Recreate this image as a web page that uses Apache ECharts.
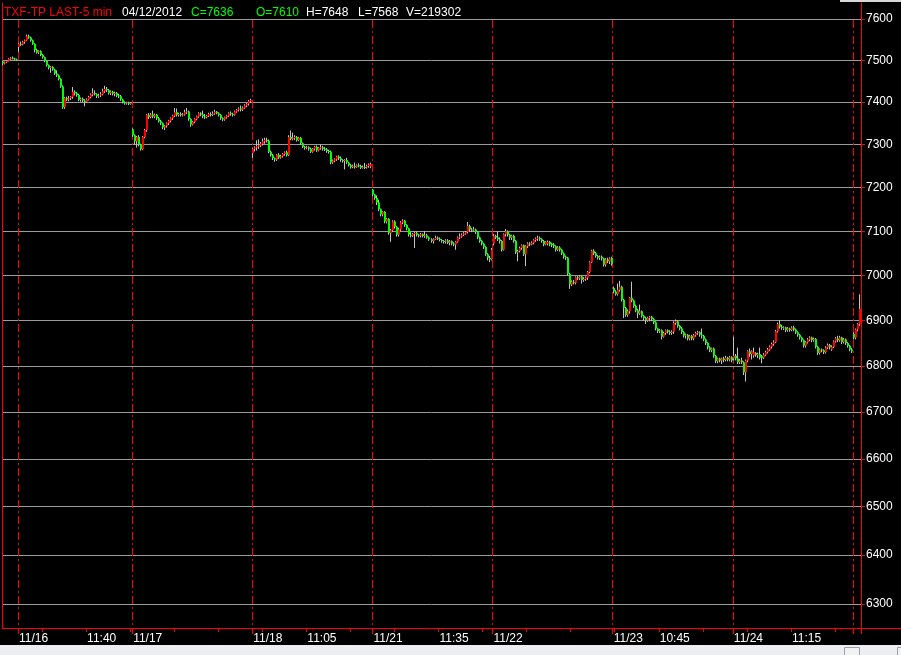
<!DOCTYPE html>
<html><head><meta charset="utf-8">
<script src="https://cdn.jsdelivr.net/npm/echarts@6/dist/echarts.min.js"></script>
<style>html,body{margin:0;padding:0;background:#000;}#c{width:901px;height:655px;}</style>
</head><body><div id="c"></div>
<script>
// ---- data (5-min bars: [open, close, low, high]) ----
const dayNames = ['11/15','11/16','11/17','11/18','11/21','11/22','11/23','11/24','11/25'];
const firstSlot = [52,0,0,0,0,0,0,0,0];

const d1115 = [[7497,7492,7488,7499],[7492,7495,7490,7497],[7495,7499,7493,7501],[7499,7503,7497,7505],[7503,7506,7501,7508],[7506,7504,7502,7509],[7504,7502,7500,7506],[7502,7500,7498,7504]];
const d1116 = [[7532,7540,7520,7542],[7540,7538,7535,7545],[7538,7544,7536,7547],[7544,7548,7540,7550],[7548,7558,7546,7562],[7558,7555,7552,7562],[7555,7548,7545,7557],[7548,7540,7537,7550],[7540,7525,7519,7541],[7525,7519,7516,7528],
[7519,7522,7515,7524],[7522,7513,7510,7524],[7513,7507,7504,7515],[7507,7498,7495,7509],[7498,7488,7485,7500],[7488,7482,7478,7490],[7482,7484,7470,7486],[7484,7478,7475,7486],[7478,7468,7465,7480],[7468,7464,7460,7476],
[7464,7455,7452,7466],[7455,7437,7434,7457],[7437,7388,7384,7440],[7388,7410,7384,7412],[7410,7406,7403,7413],[7406,7409,7402,7415],[7409,7412,7405,7414],[7412,7425,7408,7436],[7425,7421,7416,7428],[7421,7417,7413,7424],
[7417,7405,7402,7420],[7405,7408,7401,7411],[7408,7404,7400,7411],[7404,7401,7390,7407],[7401,7406,7398,7409],[7406,7412,7404,7415],[7412,7418,7409,7421],[7418,7422,7414,7433],[7422,7419,7416,7428],[7419,7414,7410,7421],
[7414,7416,7410,7420],[7416,7419,7412,7424],[7419,7426,7416,7432],[7426,7431,7422,7439],[7431,7428,7424,7436],[7428,7421,7418,7431],[7421,7425,7417,7428],[7425,7420,7416,7427],[7420,7422,7414,7425],[7422,7416,7412,7424],
[7416,7414,7410,7420],[7414,7406,7403,7417],[7406,7400,7397,7408],[7400,7397,7394,7402],[7397,7399,7394,7401],[7399,7396,7393,7401],[7396,7398,7394,7400]];
const d1117 = [[7336,7322,7318,7338],[7322,7308,7300,7324],[7308,7318,7293,7320],[7318,7300,7296,7322],[7300,7289,7286,7302],[7289,7318,7287,7320],[7318,7334,7315,7337],[7334,7370,7330,7372],[7370,7365,7360,7374],[7365,7371,7362,7374],
[7371,7366,7362,7380],[7366,7370,7362,7373],[7370,7362,7358,7372],[7362,7355,7352,7365],[7355,7350,7346,7358],[7350,7340,7336,7352],[7340,7344,7334,7346],[7344,7350,7340,7352],[7350,7356,7346,7358],[7356,7362,7352,7364],
[7362,7368,7358,7370],[7368,7376,7365,7386],[7376,7370,7366,7385],[7370,7372,7366,7375],[7372,7370,7366,7376],[7370,7371,7366,7374],[7371,7376,7368,7382],[7376,7378,7372,7386],[7378,7360,7356,7380],[7360,7347,7342,7362],
[7347,7353,7345,7355],[7353,7360,7350,7362],[7360,7366,7357,7368],[7366,7374,7363,7376],[7374,7371,7367,7376],[7371,7366,7362,7380],[7366,7364,7360,7372],[7364,7368,7362,7370],[7368,7372,7365,7375],[7372,7370,7366,7376],
[7370,7373,7367,7378],[7373,7377,7370,7382],[7377,7374,7371,7379],[7374,7370,7366,7376],[7370,7362,7358,7372],[7362,7359,7355,7364],[7359,7364,7356,7366],[7364,7368,7361,7370],[7368,7374,7365,7376],[7374,7372,7368,7378],
[7372,7370,7366,7375],[7370,7378,7368,7380],[7378,7382,7375,7384],[7382,7385,7378,7388],[7385,7382,7378,7392],[7382,7387,7379,7390],[7387,7392,7384,7395],[7392,7396,7388,7398],[7396,7402,7392,7405],[7402,7405,7398,7408]];
const d1118 = [[7280,7290,7268,7293],[7290,7293,7284,7296],[7293,7296,7286,7310],[7296,7298,7290,7312],[7298,7302,7294,7306],[7302,7307,7298,7314],[7307,7311,7302,7316],[7311,7309,7305,7316],[7309,7283,7280,7312],[7283,7275,7272,7286],
[7275,7268,7264,7278],[7268,7265,7260,7270],[7265,7276,7262,7278],[7276,7270,7266,7280],[7270,7273,7267,7276],[7273,7278,7270,7280],[7278,7282,7274,7284],[7282,7275,7272,7286],[7275,7318,7273,7322],[7318,7313,7310,7333],
[7313,7316,7310,7328],[7316,7318,7311,7322],[7318,7310,7307,7320],[7310,7316,7308,7318],[7316,7303,7300,7318],[7303,7295,7292,7305],[7295,7292,7288,7297],[7292,7294,7289,7297],[7294,7290,7286,7296],[7290,7283,7280,7293],
[7283,7290,7281,7292],[7290,7295,7286,7297],[7295,7286,7283,7298],[7286,7292,7284,7294],[7292,7294,7288,7300],[7294,7290,7286,7297],[7290,7289,7285,7294],[7289,7285,7281,7292],[7285,7283,7279,7288],[7283,7258,7254,7286],
[7258,7262,7255,7265],[7262,7266,7259,7268],[7266,7272,7262,7274],[7272,7268,7264,7275],[7268,7264,7260,7272],[7264,7262,7258,7266],[7262,7264,7242,7266],[7264,7258,7255,7269],[7258,7252,7249,7260],[7252,7248,7244,7255],
[7248,7250,7245,7253],[7250,7248,7244,7258],[7248,7252,7246,7254],[7252,7250,7247,7256],[7250,7246,7243,7253],[7246,7248,7244,7251],[7248,7247,7243,7257],[7247,7250,7244,7253],[7250,7253,7246,7256],[7249,7254,7245,7258]];
const d1121 = [[7195,7184,7180,7197],[7184,7176,7172,7186],[7176,7166,7160,7182],[7166,7150,7146,7172],[7150,7138,7134,7152],[7138,7144,7134,7146],[7144,7122,7118,7146],[7122,7128,7118,7130],[7128,7096,7092,7130],[7096,7102,7076,7105],
[7102,7122,7098,7125],[7122,7110,7106,7125],[7110,7092,7088,7112],[7092,7104,7088,7108],[7104,7120,7100,7123],[7120,7124,7116,7127],[7124,7114,7110,7126],[7114,7106,7102,7116],[7106,7092,7088,7108],[7092,7090,7086,7098],
[7090,7094,7087,7096],[7094,7096,7062,7100],[7096,7092,7088,7100],[7092,7090,7086,7094],[7090,7093,7086,7096],[7093,7089,7086,7095],[7089,7091,7085,7100],[7091,7086,7083,7094],[7086,7082,7078,7088],[7082,7078,7074,7084],
[7078,7082,7072,7084],[7082,7085,7080,7090],[7085,7083,7080,7088],[7083,7080,7077,7086],[7080,7078,7074,7082],[7078,7076,7072,7080],[7076,7079,7072,7082],[7079,7074,7071,7082],[7074,7077,7068,7080],[7077,7072,7068,7079],
[7072,7070,7066,7075],[7070,7076,7058,7078],[7076,7086,7074,7088],[7086,7088,7082,7095],[7088,7092,7085,7095],[7092,7095,7089,7098],[7095,7098,7092,7100],[7098,7112,7095,7121],[7112,7104,7100,7115],[7104,7102,7098,7107],
[7102,7104,7099,7110],[7104,7098,7094,7106],[7098,7086,7082,7100],[7086,7078,7074,7088],[7078,7072,7068,7080],[7072,7064,7060,7074],[7064,7048,7044,7066],[7048,7040,7034,7050],[7040,7036,7030,7044],[7036,7058,7034,7062]];
const d1122 = [[7072,7090,7068,7094],[7090,7086,7082,7092],[7086,7082,7078,7100],[7082,7078,7072,7086],[7078,7058,7054,7080],[7058,7093,7056,7095],[7093,7100,7088,7105],[7100,7092,7088,7102],[7092,7085,7080,7094],[7085,7090,7080,7092],
[7090,7078,7074,7092],[7078,7052,7048,7080],[7052,7055,7032,7058],[7055,7062,7052,7065],[7062,7068,7058,7070],[7068,7048,7044,7070],[7048,7066,7021,7068],[7066,7072,7062,7075],[7072,7070,7066,7075],[7070,7074,7068,7077],
[7074,7080,7070,7082],[7080,7083,7076,7086],[7083,7085,7078,7090],[7085,7082,7078,7088],[7082,7078,7074,7084],[7078,7070,7066,7080],[7070,7076,7068,7078],[7072,7076,7068,7079],[7076,7070,7066,7078],[7072,7068,7064,7074],
[7070,7066,7062,7073],[7066,7058,7054,7068],[7058,7063,7055,7066],[7063,7058,7054,7066],[7058,7050,7046,7060],[7050,7042,7038,7052],[7042,7040,7035,7045],[7040,7004,7000,7042],[7004,6980,6970,7006],[6980,6986,6976,6989],
[6986,6984,6980,6990],[6984,6996,6980,6998],[6996,6994,6990,6999],[6994,6998,6990,7001],[6998,6990,6982,7000],[6990,6992,6986,6996],[6992,6995,6988,6998],[6995,7008,6990,7010],[7008,7030,7005,7032],[7030,7056,7028,7058],
[7056,7050,7046,7059],[7050,7044,7040,7053],[7044,7040,7036,7046],[7040,7042,7035,7045],[7042,7038,7034,7045],[7038,7024,7020,7040],[7024,7036,7020,7039],[7036,7032,7028,7040],[7032,7038,7026,7041],[7040,7026,7022,7042]];
const d1123 = [[6972,6964,6960,6975],[6964,6958,6955,6967],[6958,6968,6955,6982],[6968,6975,6964,6988],[6975,6946,6942,6977],[6946,6928,6905,6948],[6928,6912,6908,6930],[6912,6920,6908,6924],[6920,6950,6915,6952],[6950,6944,6940,6986],
[6944,6932,6928,6946],[6932,6922,6918,6935],[6922,6915,6905,6925],[6915,6920,6912,6935],[6920,6910,6906,6922],[6910,6905,6900,6912],[6905,6900,6892,6908],[6900,6906,6897,6908],[6906,6908,6898,6910],[6908,6903,6898,6910],
[6903,6896,6892,6905],[6896,6882,6878,6898],[6882,6876,6872,6884],[6876,6878,6872,6881],[6878,6864,6858,6880],[6864,6872,6862,6875],[6872,6878,6868,6880],[6878,6875,6871,6880],[6875,6872,6868,6878],[6872,6875,6868,6878],
[6875,6894,6870,6898],[6894,6898,6890,6902],[6898,6888,6884,6900],[6888,6882,6878,6890],[6882,6874,6870,6885],[6874,6866,6862,6876],[6866,6868,6860,6871],[6868,6860,6856,6870],[6860,6866,6856,6868],[6866,6860,6856,6868],
[6860,6867,6856,6870],[6867,6872,6864,6875],[6872,6874,6868,6877],[6874,6868,6864,6876],[6868,6866,6860,6882],[6866,6858,6854,6868],[6858,6850,6846,6860],[6850,6840,6836,6852],[6840,6834,6830,6843],[6834,6838,6830,6840],
[6838,6822,6818,6840],[6822,6810,6806,6824],[6810,6816,6806,6818],[6816,6812,6808,6818],[6812,6816,6804,6818],[6816,6813,6808,6820],[6813,6818,6810,6822],[6818,6814,6810,6820],[6814,6819,6810,6822],[6819,6812,6808,6821]];
const d1124 = [[6816,6822,6812,6864],[6822,6816,6812,6826],[6816,6808,6804,6840],[6808,6812,6804,6815],[6812,6808,6804,6818],[6808,6786,6780,6810],[6786,6812,6766,6814],[6812,6832,6808,6834],[6832,6826,6820,6838],[6826,6832,6814,6834],
[6822,6830,6818,6840],[6828,6824,6820,6830],[6824,6826,6817,6829],[6826,6818,6814,6840],[6822,6818,6806,6824],[6818,6825,6815,6828],[6825,6830,6822,6833],[6830,6836,6827,6839],[6836,6842,6833,6845],[6842,6848,6838,6851],
[6848,6852,6844,6856],[6852,6876,6850,6879],[6876,6892,6873,6895],[6892,6886,6882,6900],[6886,6883,6879,6890],[6883,6884,6879,6887],[6884,6878,6874,6886],[6878,6882,6875,6885],[6882,6879,6875,6884],[6879,6884,6876,6887],
[6884,6880,6876,6888],[6880,6874,6870,6882],[6874,6868,6864,6876],[6868,6862,6858,6870],[6862,6856,6852,6864],[6856,6844,6840,6858],[6844,6852,6840,6854],[6852,6858,6849,6861],[6858,6862,6854,6865],[6862,6856,6852,6864],
[6856,6859,6853,6862],[6859,6842,6838,6861],[6842,6828,6824,6844],[6828,6836,6825,6838],[6836,6834,6830,6838],[6834,6830,6826,6836],[6830,6840,6827,6843],[6840,6846,6837,6849],[6846,6840,6836,6848],[6836,6842,6833,6845],
[6842,6854,6839,6856],[6854,6860,6851,6863],[6860,6856,6852,6866],[6856,6862,6853,6866],[6862,6852,6848,6864],[6852,6858,6849,6861],[6858,6850,6846,6860],[6850,6844,6840,6852],[6844,6836,6832,6846],[6836,6832,6828,6839]];
const d1125 = [[6870,6862,6858,6874],[6862,6880,6858,6882],[6880,6892,6876,6894],[6892,6926,6888,6958]];

// ---- axes / labels ----
const yTicks = [6300,6400,6500,6600,6700,6800,6900,7000,7100,7200,7300,7400,7500,7600];
const yMin = 6252, yMax = 7639;
const dateTickDays = ['11/16','11/17','11/18','11/21','11/22','11/23','11/24'];
const timeTicks = ['11/16 11:40','11/18 11:05','11/21 11:35','11/23 10:45','11/24 11:15'];
const minorTickStart = 20, minorTickEvery = 22;
const header = [
  {text:'TXF-TP LAST-5 min', color:'#ff0000', x:4},
  {text:'04/12/2012', color:'#ffffff', x:122},
  {text:'C=7636', color:'#00ff00', x:191},
  {text:'O=7610', color:'#00ff00', x:256},
  {text:'H=7648', color:'#ffffff', x:306},
  {text:'L=7568', color:'#ffffff', x:358},
  {text:'V=219302', color:'#ffffff', x:406}
];

// ---- build ----
const days = [d1115,d1116,d1117,d1118,d1121,d1122,d1123,d1124,d1125];
const categories = [], candles = [], dayStart = [];
days.forEach((bars, di) => {
  bars.forEach((b, k) => {
    const mins = 8*60 + 45 + (firstSlot[di] + k + 1) * 5;
    const t = String(Math.floor(mins/60)).padStart(2,'0') + ':' + String(mins%60).padStart(2,'0');
    const idx = categories.length;
    if (k === 0) dayStart.push(idx);
    categories.push(dayNames[di] + ' ' + t);
    candles.push([idx, Math.log(b[0]), Math.log(b[1]), Math.log(b[2]), Math.log(b[3])]);
  });
});
const separators = new Set(dayStart.slice(1));
const labelIdx = new Set();
dayStart.forEach(i => { if (dateTickDays.includes(categories[i].split(' ')[0])) labelIdx.add(i); });
categories.forEach((c, i) => { if (timeTicks.includes(c)) labelIdx.add(i); });

const RED = '#ff0000', GREEN = '#00ff00', WICK = '#c4c4c4', GRID = '#9c9c9c';
const FONT = 'Liberation Sans';
const FS = 12;

function renderItem(params, api) {
  const i = api.value(0);
  const o = api.value(1), c = api.value(2), l = api.value(3), h = api.value(4);
  const pO = api.coord([i, o]), pC = api.coord([i, c]);
  const pL = api.coord([i, l]), pH = api.coord([i, h]);
  const cx = Math.round(pO[0]);
  const top = Math.min(pO[1], pC[1]);
  const hgt = Math.max(1, Math.abs(pO[1] - pC[1]));
  return {
    type: 'group',
    children: [
      {type:'line', shape:{x1:cx-0.5, y1:pH[1], x2:cx-0.5, y2:pL[1]}, style:{stroke:WICK, lineWidth:1}},
      {type:'rect', shape:{x:cx-1, y:top, width:2, height:hgt}, style:{fill: c >= o ? RED : GREEN}}
    ]
  };
}

const chart = echarts.init(document.getElementById('c'), null, {renderer:'canvas'});
chart.setOption({
  backgroundColor: '#000000',
  animation: false,
  grid: [
    {left:2, right:40, top:3, bottom:27},
    {left:2, right:40, top:20, bottom:27},
    {left:861, right:0, top:3, bottom:27}
  ],
  xAxis: [
    {
      gridIndex:0, type:'category', data:categories, boundaryGap:true,
      axisLine:{show:true, onZero:false, lineStyle:{color:RED, width:1}},
      axisTick:{show:true, length:4, interval:(i) => i >= minorTickStart && (i - minorTickStart) % minorTickEvery === 0, lineStyle:{color:RED}},
      axisLabel:{show:true, interval:(i) => labelIdx.has(i), align:'left', margin:5, color:'#ffffff', fontSize:FS, fontFamily:FONT,
        formatter:(v, i) => separators.has(i) ? v.split(' ')[0] : v.split(' ')[1]},
      splitLine:{show:false}
    },
    {
      gridIndex:1, type:'category', data:categories, boundaryGap:true,
      axisLine:{show:false, onZero:false},
      axisTick:{show:true, length:6, interval:(i) => separators.has(i), lineStyle:{color:RED, type:[8,3,2,3]}},
      axisLabel:{show:false},
      splitLine:{show:true, interval:(i) => separators.has(i), lineStyle:{color:RED, width:1, type:[8,3,2,3]}}
    },
    {
      gridIndex:2, type:'value', min:0, max:1,
      axisLine:{show:true, onZero:false, lineStyle:{color:RED}},
      axisTick:{show:false}, axisLabel:{show:false}, splitLine:{show:false}
    }
  ],
  yAxis: [
    {
      gridIndex:0, type:'value', position:'right', min:Math.log(yMin), max:Math.log(yMax),
      axisLine:{show:true, onZero:false, lineStyle:{color:RED}},
      axisTick:{show:true, length:4, customValues:yTicks.map(Math.log), lineStyle:{color:RED}},
      axisLabel:{show:true, customValues:yTicks.map(Math.log), margin:5, color:'#ffffff', fontSize:FS, fontFamily:FONT,
        formatter:(v) => String(Math.round(Math.exp(v)))},
      splitLine:{show:true, lineStyle:{color:GRID, width:1}}
    },
    {
      gridIndex:0, type:'value', position:'left', min:0, max:1,
      axisLine:{show:true, onZero:false, lineStyle:{color:RED}},
      axisTick:{show:false}, axisLabel:{show:false}, splitLine:{show:false}
    },
    {gridIndex:1, type:'value', show:false, min:0, max:1},
    {gridIndex:2, type:'value', show:false, min:0, max:1}
  ],
  series: [{
    type:'custom', xAxisIndex:0, yAxisIndex:0, data:candles,
    dimensions:['i','o','c','l','h'], encode:{x:0, y:[1,2,3,4]},
    renderItem: renderItem, clip:true, silent:true
  }],
  graphic: [
    ...header.map(hd => ({type:'text', x:hd.x, y:12.5, silent:true,
      style:{text:hd.text, fill:hd.color, fontSize:FS, fontFamily:FONT, verticalAlign:'middle'}})),
    {type:'rect', silent:true, shape:{x:0, y:645, width:901, height:10}, style:{fill:'#eceef2'}},
    {type:'rect', silent:true, shape:{x:844.5, y:647.5, width:15, height:9}, style:{fill:'#f2f2f2', stroke:'#9aa0a6', lineWidth:1}},
    {type:'rect', silent:true, shape:{x:897.5, y:647.5, width:8, height:9}, style:{fill:'#f2f2f2', stroke:'#9aa0a6', lineWidth:1}},
    {type:'rect', silent:true, shape:{x:840, y:0, width:61, height:2}, style:{fill:'#d8d8d8'}}
  ]
});
</script>
</body></html>
